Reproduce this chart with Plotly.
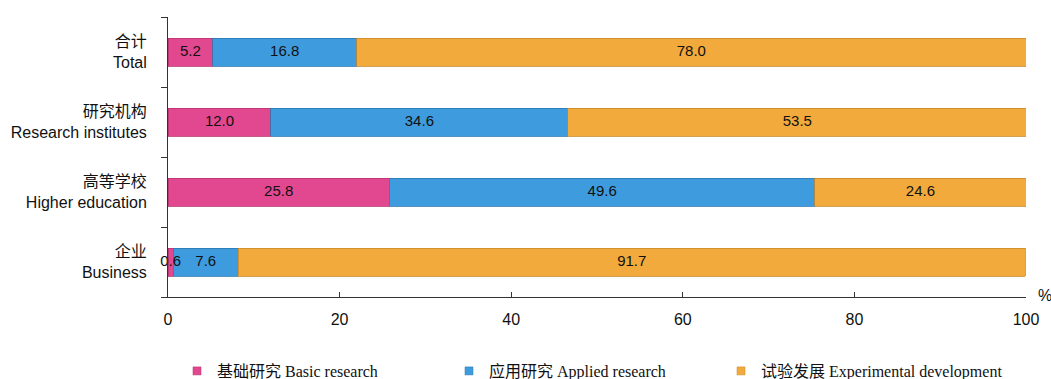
import plotly.graph_objects as go

# Categories listed bottom to top
categories = [
    "企业<br>Business",
    "高等学校<br>Higher education",
    "研究机构<br>Research institutes",
    "合计<br>Total",
]
basic = [0.6, 25.8, 12.0, 5.2]
applied = [7.6, 49.6, 34.6, 16.8]
experimental = [91.7, 24.6, 53.5, 78.0]

series = [
    ("基础研究 Basic research", basic, "#E2488F", "#B8336F"),
    ("应用研究 Applied research", applied, "#3E9BDD", "#2C78B0"),
    ("试验发展 Experimental development", experimental, "#F1AA3B", "#C98A28"),
]

sans = "Liberation Sans, Arial, Noto Sans CJK SC, sans-serif"
serif = "Liberation Serif, Times New Roman, Noto Sans CJK SC, serif"

fig = go.Figure()
for name, vals, color, edge in series:
    fig.add_trace(go.Bar(
        y=categories,
        x=vals,
        name=name,
        legendgroup=name,
        showlegend=False,
        orientation="h",
        width=0.4,
        marker=dict(color=color, line=dict(color=edge, width=0.8)),
    ))

# Value labels centred on each segment, drawn above all bars
label_x, label_y, label_t = [], [], []
for i, cat in enumerate(categories):
    start = 0.0
    for _, vals, _, _ in series:
        v = vals[i]
        label_x.append(start + v / 2)
        label_y.append(cat)
        label_t.append(f"{v:.1f}")
        start += v
fig.add_trace(go.Scatter(
    x=label_x, y=label_y, text=label_t, mode="text",
    textposition="middle center",
    textfont=dict(family=sans, size=15, color="#111111"),
    showlegend=False, hoverinfo="skip", cliponaxis=False,
))

# Small square legend keys, one legend box per series
legend_ids = ["legend", "legend2", "legend3"]
legend_left = [177, 449, 721]
for (name, vals, color, edge), lid in zip(series, legend_ids):
    fig.add_trace(go.Scatter(
        x=[None], y=[None], mode="markers", name=name, legendgroup=name,
        legend=lid,
        marker=dict(symbol="square", size=8, color=color,
                    line=dict(color=edge, width=0.5)),
        hoverinfo="skip",
    ))

fig.add_annotation(
    x=1.0, y=0, xref="paper", yref="paper",
    text="%", showarrow=False, xanchor="left", yanchor="bottom",
    xshift=10, yshift=-9,
    font=dict(family=sans, size=16, color="#111111"),
)

legend_style = dict(
    orientation="h",
    xref="container", yref="container",
    xanchor="left",
    y=8 / 379, yanchor="middle",
    bgcolor="rgba(0,0,0,0)",
    font=dict(family=serif, size=16, color="#111111"),
)

fig.update_layout(
    barmode="stack",
    width=1051,
    height=379,
    margin=dict(l=168, r=25, t=17, b=82, autoexpand=False),
    paper_bgcolor="white",
    plot_bgcolor="white",
    font=dict(family=sans, size=16, color="#111111"),
    xaxis=dict(
        range=[0, 100],
        tickvals=[0, 20, 40, 60, 80, 100],
        ticks="inside",
        ticklen=5,
        tickcolor="#333333",
        showline=True,
        linecolor="#333333",
        linewidth=1,
        showgrid=False,
        zeroline=False,
        ticklabelstandoff=8,
        tickfont=dict(family=sans, size=16, color="#111111"),
    ),
    yaxis=dict(
        categoryorder="array",
        categoryarray=categories,
        tickson="boundaries",
        ticks="outside",
        ticklen=6,
        tickcolor="#333333",
        showline=True,
        linecolor="#333333",
        linewidth=1,
        showgrid=False,
        zeroline=False,
        ticklabelstandoff=17,
        tickfont=dict(family=sans, size=16, color="#111111"),
    ),
    legend=dict(legend_style, x=legend_left[0] / 1051),
    legend2=dict(legend_style, x=legend_left[1] / 1051),
    legend3=dict(legend_style, x=legend_left[2] / 1051),
    showlegend=True,
)

fig.write_html("out.html")
